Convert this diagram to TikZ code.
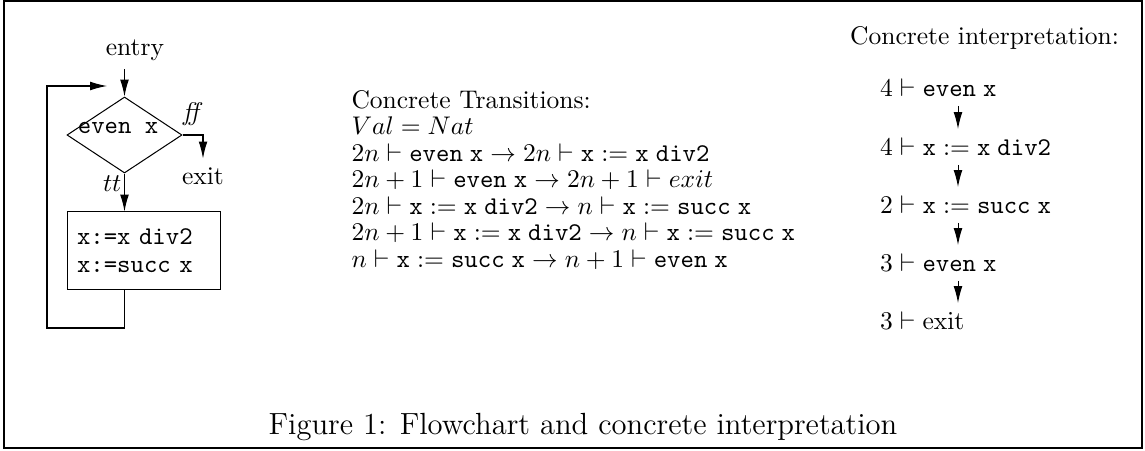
\documentclass[tikz,border=0pt]{standalone}
\usepackage{amsmath,amssymb}
\usetikzlibrary{arrows.meta,positioning,shapes.geometric}

\tikzset{
  arr/.style={-{Latex[length=6.6pt,width=3.4pt]}},
  trline/.style={anchor=north west,inner sep=0pt,text height=7.3pt,text depth=2.7pt},
  ciline/.style={anchor=west,text height=7pt,text depth=0pt},
}
\newcommand{\ttx}[1]{\mathtt{#1}}

\begin{document}
\begin{tikzpicture}[x=0.392pt,y=-0.392pt,line width=0.4pt]
    \useasboundingbox (0,0) rectangle (1145,450);
    \draw[line width=0.8pt] (4,1) rectangle (1142,448);

    % flowchart
    \node (entry) at (135,50) {entry};
    \node[draw,diamond,inner sep=0pt,minimum width=45.1pt,minimum height=29.8pt] (test) at (124.5,135)
      {\makebox[0pt]{\raisebox{0.5pt}[0pt][0pt]{\texttt{even x}}\hspace{5pt}}};
    \node[draw,inner xsep=3.9pt,text width=52.5pt,align=left,minimum height=30.2pt] (body) at (144,250.5)
      {\texttt{x:=x div2}\\[-1pt]\texttt{x:=succ x}};
    \node (exit) at (203,176) {exit};
    \coordinate (loopbot) at (47,328);
    \coordinate (back) at (107,86);

    \draw[arr] (entry.south -| test.north) -- (test.north);
    \draw[arr] (test.east) -| node[above,pos=0.25]{\textit{ff}} (exit.north);
    \draw[arr] (test.south) -- node[left,pos=0.26,inner sep=1pt]{$tt$} (test.south |- body.north);
    \draw[arr] (body.south -| test.south) |- (loopbot) |- (back);

    % transitions
    \node[trline] (tr0) at (351,89) {Concrete Transitions:};
    \node[trline] (tr1) at (tr0.south west) {$Val = Nat$};
    \node[trline] (tr2) at (tr1.south west)
      {$2n \vdash \ttx{even}\;\ttx{x} \rightarrow 2n \vdash \ttx{x} := \ttx{x}\;\ttx{div2}$};
    \node[trline] (tr3) at (tr2.south west)
      {$2n+1 \vdash \ttx{even}\;\ttx{x} \rightarrow 2n+1 \vdash exit$};
    \node[trline] (tr4) at (tr3.south west)
      {$2n \vdash \ttx{x} := \ttx{x}\;\ttx{div2} \rightarrow n \vdash \ttx{x} := \ttx{succ}\;\ttx{x}$};
    \node[trline] (tr5) at (tr4.south west)
      {$2n+1 \vdash \ttx{x} := \ttx{x}\;\ttx{div2} \rightarrow n \vdash \ttx{x} := \ttx{succ}\;\ttx{x}$};
    \node[trline] (tr6) at (tr5.south west)
      {$n \vdash \ttx{x} := \ttx{succ}\;\ttx{x} \rightarrow n+1 \vdash \ttx{even}\;\ttx{x}$};

    % concrete run
    \node[anchor=east] (cihead) at (1128,38) {Concrete interpretation:};
    \node[ciline] (ci1) at (871,88) {$4 \vdash \ttx{even}\;\ttx{x}$};
    \node[ciline] (ci2) at (871,147) {$4 \vdash \ttx{x} := \ttx{x}\;\ttx{div2}$};
    \node[ciline] (ci3) at (871,205) {$2 \vdash \ttx{x} := \ttx{succ}\;\ttx{x}$};
    \node[ciline] (ci4) at (871,263) {$3 \vdash \ttx{even}\;\ttx{x}$};
    \node[ciline] (ci5) at (871,321) {$3 \vdash \mathrm{exit}$};
    \coordinate (cicol) at (958,0);
    \draw[arr] (ci1.south -| cicol) -- (ci2.north -| cicol);
    \draw[arr] (ci2.south -| cicol) -- (ci3.north -| cicol);
    \draw[arr] (ci3.south -| cicol) -- (ci4.north -| cicol);
    \draw[arr] (ci4.south -| cicol) -- (ci5.north -| cicol);

    \node (caption) at (583,427) {\large Figure 1: Flowchart and concrete interpretation};
\end{tikzpicture}
\end{document}
